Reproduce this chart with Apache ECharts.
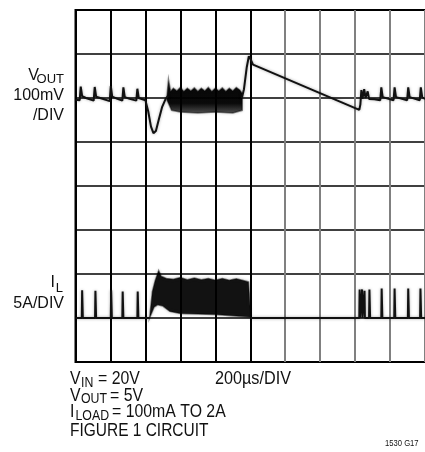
<!DOCTYPE html>
<html><head><meta charset="utf-8">
<script src="https://cdn.jsdelivr.net/npm/echarts@6/dist/echarts.min.js"></script>
<style>html,body{margin:0;padding:0;background:#fff;}#c{width:425px;height:452px;}</style>
</head><body><div id="c"></div>
<script>
// x in divisions (200us/div), y in divisions (0 = bottom grid line)
const voutPre = [[0.00,5.96],[0.12,5.95],[0.15,6.26],[0.19,6.04],[0.30,6.0],[0.52,5.94],[0.55,6.25],[0.59,6.03],[0.75,5.99],[0.98,5.93],[1.01,6.27],[1.05,6.03],[1.20,5.98],[1.34,5.94],[1.37,6.24],[1.41,6.02],[1.55,5.98],[1.74,5.94],[1.77,6.21],[1.81,6.0],[2.0,5.95],[2.08,5.7],[2.16,5.35],[2.23,5.2],[2.3,5.25],[2.38,5.5],[2.48,5.8],[2.58,5.98],[2.65,6.05]];
const voutBandUpper = [[2.62,6.05],[2.66,6.42],[2.72,6.15],[2.8,6.22],[2.9,6.16],[3.0,6.24],[3.1,6.15],[3.2,6.22],[3.3,6.16],[3.4,6.23],[3.5,6.15],[3.6,6.22],[3.7,6.16],[3.8,6.24],[3.9,6.15],[4.0,6.22],[4.1,6.16],[4.2,6.23],[4.3,6.15],[4.4,6.22],[4.5,6.16],[4.6,6.24],[4.7,6.18],[4.77,6.1]];
const voutBandLower = [[2.62,5.95],[2.75,5.72],[3.0,5.68],[3.5,5.66],[4.0,5.68],[4.5,5.66],[4.77,5.72]];
const voutPost = [[4.76,6.0],[4.82,6.2],[4.9,6.7],[4.96,6.95],[5.0,6.9],[5.08,6.76],[8.12,5.73],[8.15,5.85],[8.18,6.18],[8.21,5.98],[8.26,6.2],[8.3,6.0],[8.36,6.15],[8.4,5.98],[8.55,5.97],[8.72,5.95],[8.75,6.24],[8.79,6.02],[9.1,5.95],[9.13,6.24],[9.17,6.02],[9.49,5.95],[9.52,6.24],[9.56,6.02],[9.85,5.95],[9.88,6.24],[9.92,6.02],[10,5.98]];
const ilPre = [[0,1.0],[0.18,1.0],[0.19,1.63],[0.21,1.0],[0.56,1.0],[0.57,1.62],[0.59,1.0],[1.01,1.0],[1.02,1.63],[1.04,1.0],[1.34,1.0],[1.35,1.6],[1.37,1.0],[1.77,1.0],[1.78,1.6],[1.8,1.0],[2.12,1.0]];
const ilBandUpper = [[2.12,1.0],[2.2,1.6],[2.28,1.85],[2.38,2.08],[2.45,1.95],[2.6,1.9],[2.8,1.88],[3.0,1.92],[3.2,1.87],[3.4,1.91],[3.6,1.87],[3.8,1.9],[4.0,1.86],[4.2,1.9],[4.4,1.86],[4.6,1.89],[4.8,1.85],[4.95,1.82],[5.01,1.05]];
const ilBandLower = [[2.12,1.0],[2.25,1.25],[2.35,1.3],[2.5,1.27],[2.7,1.15],[3.0,1.1],[4.0,1.08],[5.01,1.02]];
const ilPost = [[5.01,1.0],[8.12,1.0],[8.13,1.65],[8.14,1.0],[8.19,1.0],[8.2,1.65],[8.21,1.0],[8.26,1.0],[8.27,1.62],[8.28,1.0],[8.4,1.0],[8.41,1.65],[8.43,1.0],[8.75,1.0],[8.76,1.67],[8.78,1.0],[9.12,1.0],[9.13,1.67],[9.15,1.0],[9.51,1.0],[9.52,1.67],[9.54,1.0],[9.86,1.0],[9.87,1.67],[9.89,1.0],[10,1.0]];
const xDivs = 10, yDivs = 8;

const chart = echarts.init(document.getElementById('c'), null, {renderer:'canvas'});
const FONT = '"Liberation Sans", Arial, sans-serif';
const lineStyle = {color:'#111', width:2, shadowColor:'rgba(0,0,0,0.35)', shadowBlur:3};
function lineSeries(data){
  return {type:'line', data, showSymbol:false, symbol:'none', lineStyle, z:5, animation:false};
}
function bandSeries(upper, lower, fill){
  return {type:'custom', data:[0], z:4, animation:false,
    renderItem(params, api){
      const pts = upper.map(p=>api.coord(p)).concat(lower.slice().reverse().map(p=>api.coord(p)));
      return {type:'polygon', shape:{points:pts}, style:{fill, stroke:'rgba(0,0,0,0.45)', lineWidth:1.5, shadowColor:'rgba(0,0,0,0.3)', shadowBlur:3}};
    }};
}
const voutFill = new echarts.graphic.LinearGradient(0,0,0,1,[
  {offset:0, color:'rgba(0,0,0,0.55)'},{offset:0.3, color:'rgba(0,0,0,0.95)'},
  {offset:0.7, color:'rgba(0,0,0,0.95)'},{offset:1, color:'rgba(0,0,0,0.6)'}]);
const ilFill = 'rgba(0,0,0,0.9)';
const xColors = ['#000','#000','#000','#000','#000','#000','#808080','#808080','#808080','#808080','#808080'];
function T(x,y,text,size,opts){
  opts = opts||{};
  return {type:'text', x, y, scaleX:opts.sx||1, style:{text, font:size+'px '+FONT, fill:'#111', align:opts.align||'left', verticalAlign:'middle'}};
}
const SX = 0.88;
chart.setOption({
  animation:false,
  grid:{left:75.5, top:10, width:352, height:352, show:true, borderColor:'#000', borderWidth:2, backgroundColor:'#fff'},
  xAxis:{type:'value', min:0, max:xDivs, interval:1, axisLabel:{show:false}, axisTick:{show:false}, axisLine:{show:false},
    splitLine:{show:true, lineStyle:{color:xColors, width:2}}},
  yAxis:{type:'value', min:0, max:yDivs, interval:1, axisLabel:{show:false}, axisTick:{show:false}, axisLine:{show:false},
    splitLine:{show:true, lineStyle:{color:'#000', width:1.5}}},
  series:[lineSeries(voutPre), bandSeries(voutBandUpper, voutBandLower, voutFill), lineSeries(voutPost),
          lineSeries(ilPre), bandSeries(ilBandUpper, ilBandLower, ilFill), lineSeries(ilPost)],
  graphic:[
    T(39,76,'V',16,{align:'right'}),
    T(64,79,'OUT',13,{align:'right'}),
    T(64,96,'100mV',16,{align:'right'}),
    T(64,116,'/DIV',16,{align:'right'}),
    T(55,283,'I',16,{align:'right'}),
    T(63,288,'L',13,{align:'right'}),
    T(64,304,'5A/DIV',16,{align:'right'}),
    T(70,379.5,'V',18,{sx:SX}),
    T(81,383,'IN',14,{sx:SX}),
    T(98,379.5,'= 20V',18,{sx:SX}),
    T(215,379.5,'200µs/DIV',18,{sx:0.9}),
    T(70,396,'V',18,{sx:SX}),
    T(81,399.5,'OUT',14,{sx:SX}),
    T(110,396,'= 5V',18,{sx:SX}),
    T(70,412.5,'I',18,{sx:SX}),
    T(75.5,416,'LOAD',14,{sx:SX}),
    T(112,412.5,'= 100mA TO 2A',18,{sx:SX}),
    T(70,431,'FIGURE 1 CIRCUIT',18,{sx:0.86}),
    T(385,443.5,'1530 G17',9,{sx:0.85})
  ]
});
</script></body></html>
